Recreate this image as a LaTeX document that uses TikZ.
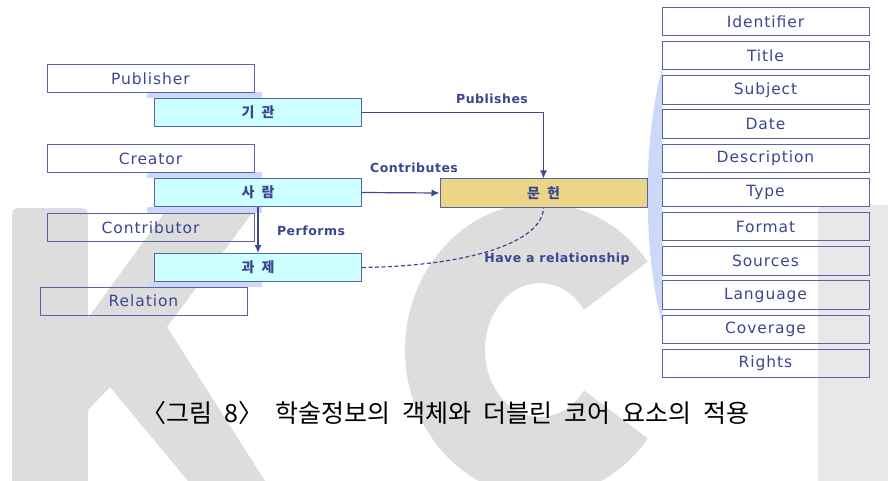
\documentclass[tikz,border=0pt]{standalone}
\usepackage{fontspec}
\usepackage{tikz}
\usetikzlibrary{arrows.meta}
\setmainfont{DejaVu Sans}
\newfontfamily\lbl[LetterSpace=6]{DejaVu Sans}
\newfontfamily\lblb[LetterSpace=4]{DejaVu Sans Bold}
\newfontfamily\kor{Noto Sans CJK KR}
\usepackage{xcolor}
\definecolor{navy}{HTML}{3D4591}
\definecolor{boxline}{HTML}{5B62A8}
\definecolor{linecol}{HTML}{3F4793}
\definecolor{objcyan}{HTML}{CCFFFF}
\definecolor{docyellow}{HTML}{EAD686}
\definecolor{band}{HTML}{CCD8F8}
\definecolor{wmk}{HTML}{DDDDDD}
\definecolor{wmkl}{HTML}{E8E8E8}

\begin{document}
\begin{tikzpicture}[x=1pt,y=-1pt,
   elembox/.style={draw=boxline,line width=1pt,minimum width=207pt,minimum height=28pt,
     inner sep=0pt,text=navy,font=\lbl\fontsize{15.5}{16}\selectfont},
   objbox/.style={elembox,fill=objcyan,font=\kor\bfseries\fontsize{14}{15}\selectfont},
   relarrow/.style={draw=linecol,line width=1.2pt,-{Latex[length=8pt,width=7pt]}},
   rellabel/.style={text=navy,font=\lblb\fontsize{12.5}{13}\selectfont}]
   \useasboundingbox (0,0) rectangle (888,481);
   % watermark
   \begin{scope}
   \clip (0,0) rectangle (888,481);
   \fill[wmk] (12,481) -- (12,222) .. controls (12,208) .. (26,208) -- (74,208) .. controls (88,208) .. (88,222) -- (88,481) -- cycle;
   \fill[wmk] (88,318) -- (168,208) -- (256,208) -- (167,327) -- (265,481) -- (188,481) -- (110,387) -- (88,410) -- cycle;
   \fill[wmk] plot[domain=37:323,samples=72] ({540+135*cos(\x)},{350-147*sin(\x)})
     -- plot[domain=323:37,samples=72] ({540+55*cos(\x)},{350-67*sin(\x)}) -- cycle;
   \fill[wmkl] (818,481) -- (818,217) .. controls (818,205) .. (830,205) -- (888,205) -- (888,481) -- cycle;
   \end{scope}
   % bands
   \fill[band] (147,92) rectangle (262,98);
   \fill[band] (147,172) rectangle (262,178);
   \fill[band] (147,207) rectangle (262,213);
   \fill[band] (147,282) rectangle (262,287);
   \fill[band] (662,68) .. controls (653,105) and (648,145) .. (648,179) -- (648,207) .. controls (648,245) and (653,290) .. (662,322) -- cycle;
   % left side
   \node[elembox] (pub) at (150.5,78.5) {Publisher};
   \node[elembox] (cre) at (150.5,158.5) {Creator};
   \node[elembox] (con) at (150.5,227.5) {Contributor};
   \node[elembox] (rela) at (143.5,301) {Relation};
   \node[objbox] (org) at (258,112.5) {기\hspace{7pt}관};
   \node[objbox] (person) at (258,192.5) {사\hspace{7pt}람};
   \node[objbox] (proj) at (258,267.5) {과\hspace{7pt}제};
   \node[objbox,fill=docyellow] (doc) at (543.5,193) {문\hspace{7pt}헌};
   % element list
   \node[elembox,fill=white,minimum height=28.5pt] (ident) at (765.5,21.5) {Identifier};
   \node[elembox,fill=white,minimum height=28.5pt] (title) at (765.5,55.7) {Title};
   \node[elembox,fill=white,minimum height=28.5pt] (subj) at (765.5,89.9) {Subject};
   \node[elembox,fill=white,minimum height=28.5pt] (date) at (765.5,124.1) {Date};
   \node[elembox,fill=white,minimum height=28.5pt] (desc) at (765.5,158.3) {Description};
   \node[elembox,fill=white,minimum height=28.5pt] (type) at (765.5,192.5) {Type};
   \node[elembox,minimum height=28.5pt] (fmt) at (765.5,226.7) {Format};
   \node[elembox,minimum height=28.5pt] (src) at (765.5,260.9) {Sources};
   \node[elembox,minimum height=28.5pt] (lang) at (765.5,295.1) {Language};
   \node[elembox,minimum height=28.5pt] (cov) at (765.5,329.3) {Coverage};
   \node[elembox,minimum height=28.5pt] (rights) at (765.5,363.5) {Rights};
   % relations
   \draw[relarrow] (org.east) -| (doc.north);
   \draw[relarrow] (person.east) -- (doc.west);
   \draw[relarrow] (person.south) -- (proj.north);
   \draw[draw=linecol,line width=1.2pt,dash pattern=on 4pt off 2.5pt] (proj.east) .. controls (470,266) and (543,242) .. (doc.south);
   \node[rellabel] (lpub) at (492,99) {Publishes};
   \node[rellabel] (lcon) at (414,168) {Contributes};
   \node[rellabel] (lperf) at (311,231) {Performs};
   \node[rellabel] (lhave) at (557,259) {Have a relationship};
   % caption
   \node[font=\kor\fontsize{25}{26}\selectfont] (cap) at (445.5,413) {\spaceskip=12pt 〈그림 8〉 학술정보의 객체와 더블린 코어 요소의 적용};
\end{tikzpicture}
\end{document}
